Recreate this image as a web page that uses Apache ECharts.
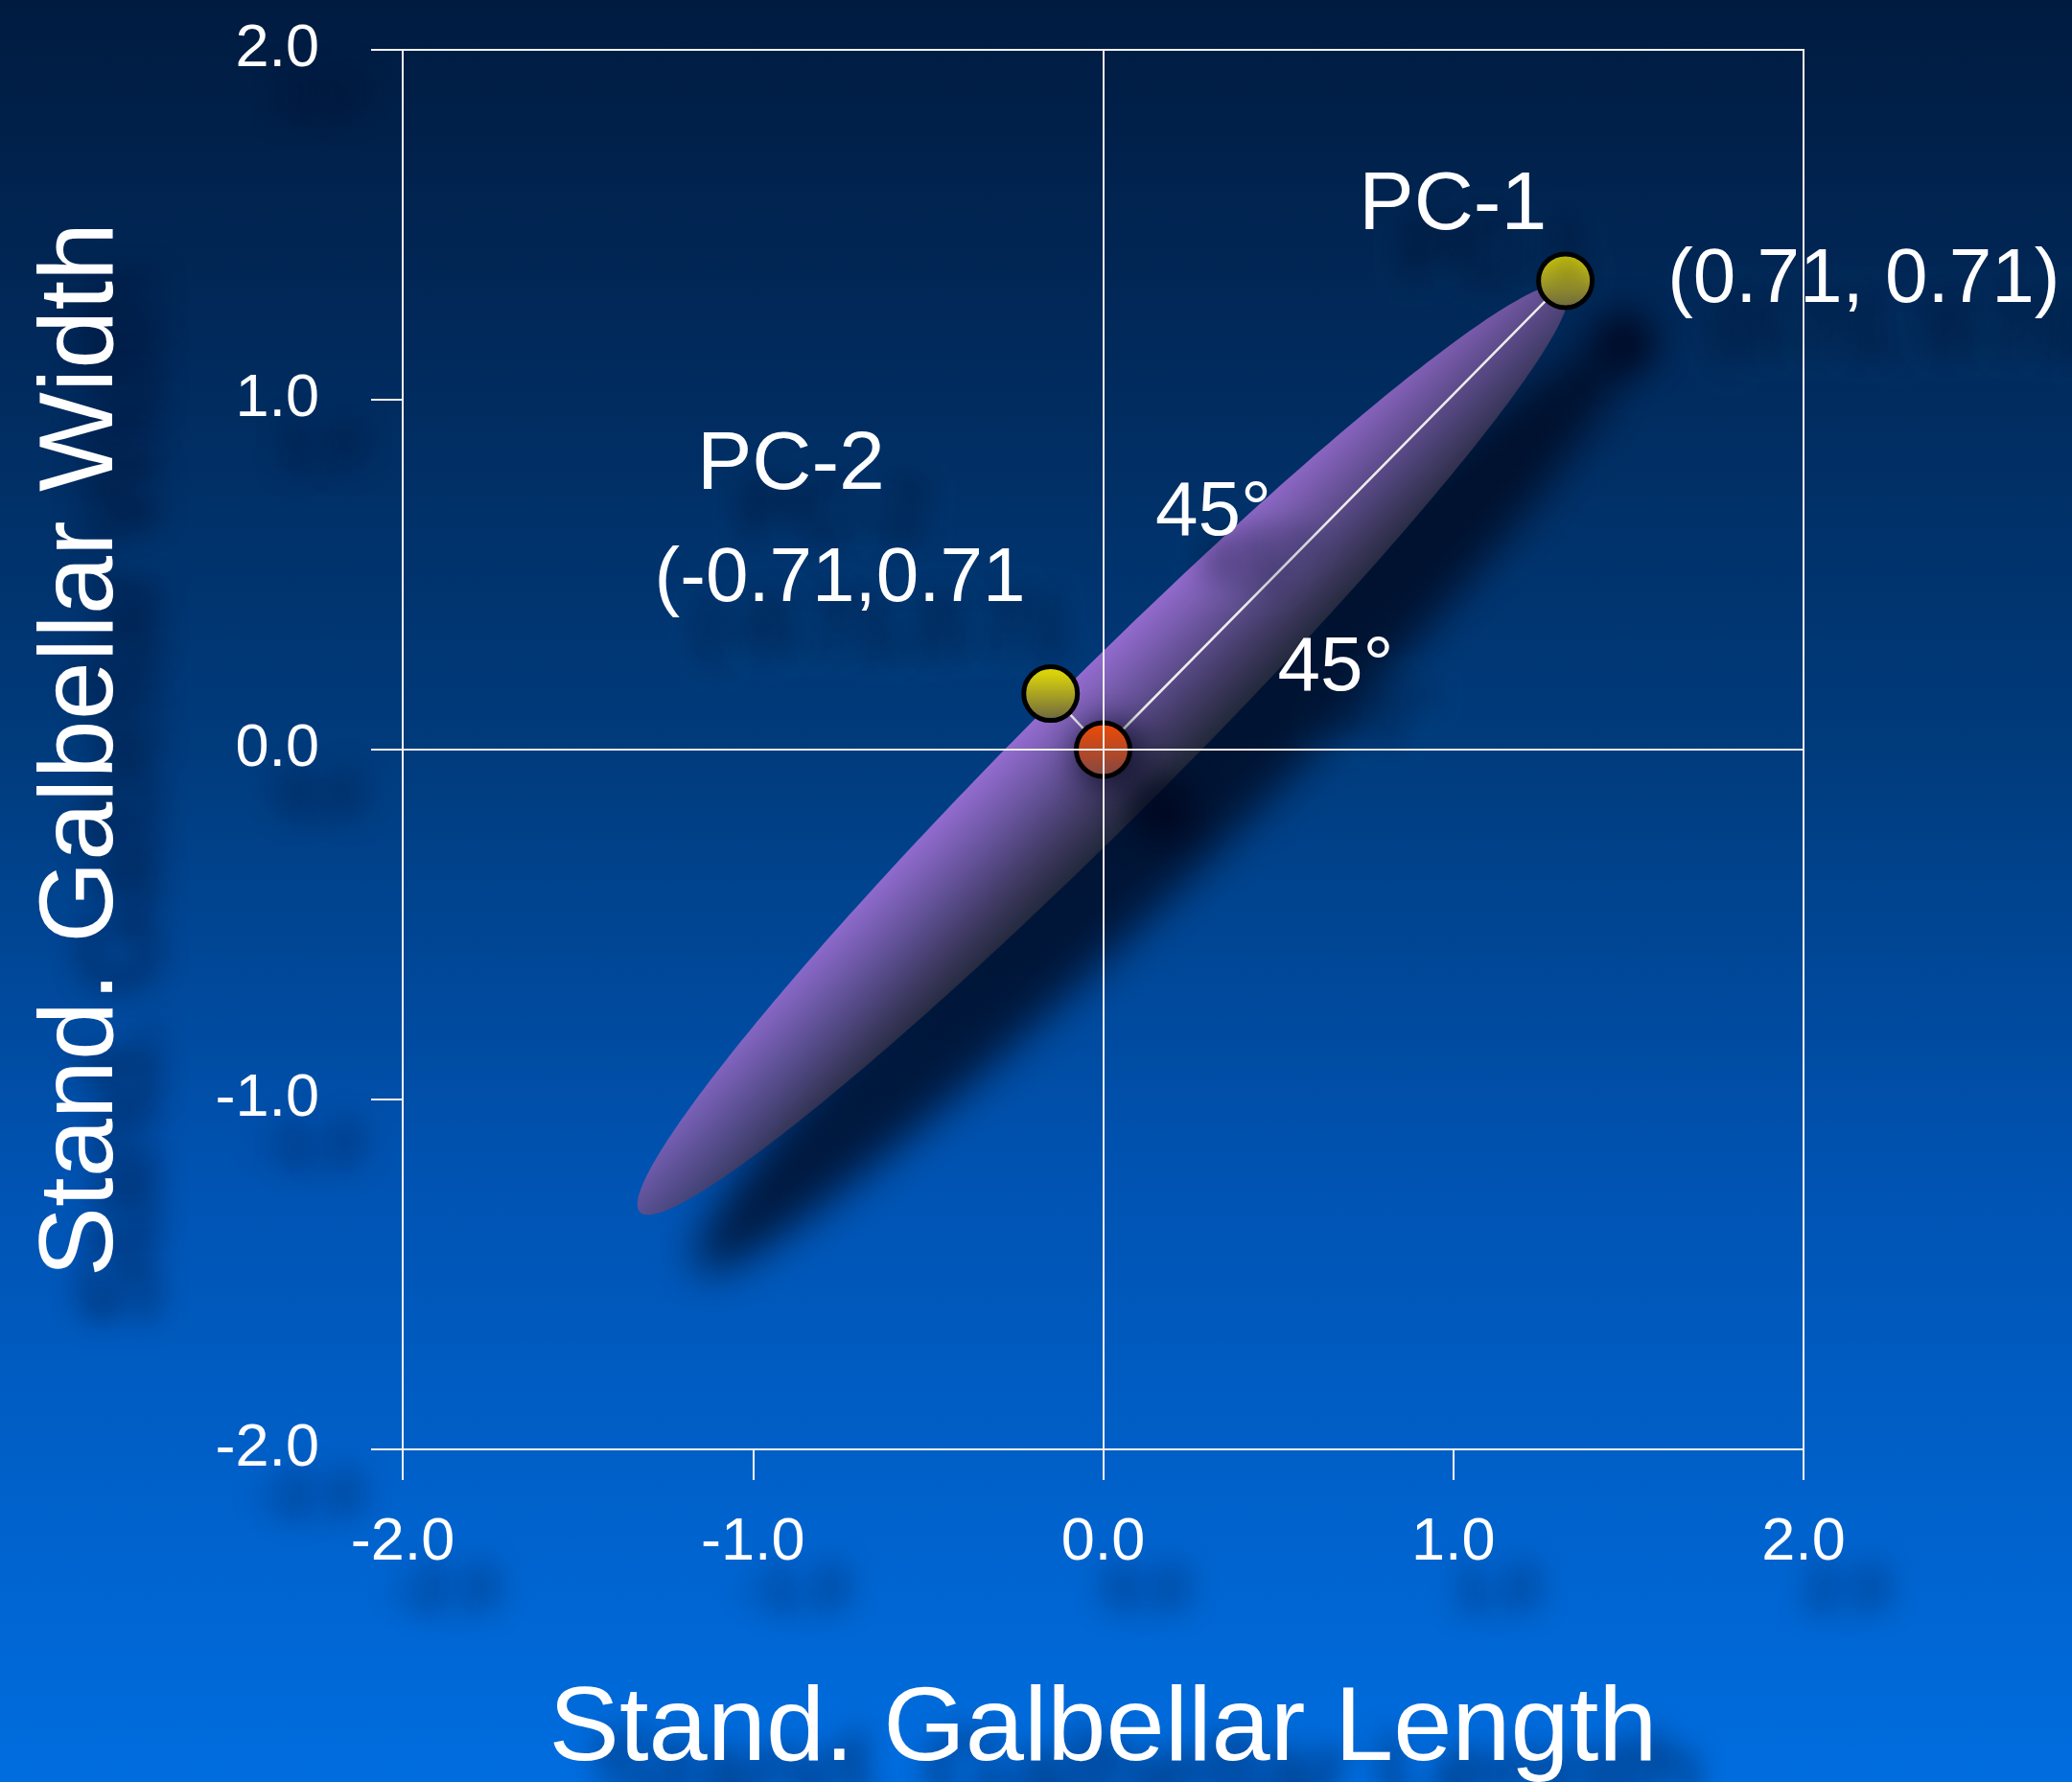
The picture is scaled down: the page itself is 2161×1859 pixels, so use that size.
<!DOCTYPE html>
<html>
<head>
<meta charset="utf-8">
<script src="https://cdn.jsdelivr.net/npm/echarts@6/dist/echarts.min.js"></script>
<style>
  html, body { margin: 0; padding: 0; background: #00336e; }
  #chart { width: 2161px; height: 1859px; }
</style>
</head>
<body>
<div id="chart"></div>
<script>
// Principal components of standardized glabellar length and width
const tickLabels = ['-2.0', '-1.0', '0.0', '1.0', '2.0'];
const pointNames = ['PC-2', 'Mean', 'PC-1'];
const pointX = [-0.15, 0, 1.32];
const pointY = [0.16, 0, 1.34];
const pc1Loading = '(0.71, 0.71)';
const pc2Loading = '(-0.71,0.71';
const angleLabels = ['45°', '45°'];

// Scatter ellipse: centre, semi-axes (axis units) and orientation (degrees)
const ellipseCenter = [0, 0];
const ellipseSemiMajor = 1.87;
const ellipseSemiMinor = 0.2;
const ellipseAngle = 45;

const FONT = '"Liberation Sans", Arial, Helvetica, sans-serif';
const shade = {
  textShadowColor: 'rgba(0, 10, 35, 0.75)',
  textShadowBlur: 30,
  textShadowOffsetX: 45,
  textShadowOffsetY: 50
};

// Free-standing annotations, anchored in axis units
const notes = [
  { text: pointNames[2], at: [1.0, 1.55], size: 86 },
  { text: pointNames[0], at: [-0.89, 0.81], size: 86 },
  { text: pc2Loading, at: [-0.75, 0.485], size: 80 },
  { text: angleLabels[0], at: [0.316, 0.673], size: 80 },
  { text: angleLabels[1], at: [0.665, 0.229], size: 80 }
];

const markerFill = {
  'PC-1': ['#f0e800', '#666044'],
  'PC-2': ['#f0e800', '#666044'],
  'Mean': ['#f64a00', '#7c4848']
};

const pointData = pointNames.map((name, i) => ({
  name: name,
  value: [pointX[i], pointY[i]],
  itemStyle: {
    color: {
      type: 'linear', x: 0, y: 0, x2: 0, y2: 1,
      colorStops: [
        { offset: 0, color: markerFill[name][0] },
        { offset: 1, color: markerFill[name][1] }
      ]
    }
  },
  label: name === 'PC-1'
    ? Object.assign({
        show: true, position: 'right', distance: 76,
        formatter: pc1Loading, color: '#ffffff', fontSize: 80, fontFamily: FONT,
        textBorderWidth: 0
      }, shade)
    : { show: false }
}));

const axisCommon = {
  type: 'value', min: -2, max: 2, interval: 1,
  axisLine: { show: true, onZero: false, lineStyle: { color: '#f4f4f4', width: 2 } },
  axisTick: { show: true, inside: false, lineStyle: { color: '#f4f4f4', width: 2 } },
  splitLine: { show: false },
  nameLocation: 'middle',
  nameTextStyle: Object.assign({ color: '#ffffff', fontSize: 110, fontFamily: FONT }, shade)
};

const chart = echarts.init(document.getElementById('chart'), null, { renderer: 'canvas' });

chart.setOption({
  animation: false,
  backgroundColor: {
    type: 'linear', x: 0, y: 0, x2: 0, y2: 1,
    colorStops: [
      { offset: 0, color: '#001b40' },
      { offset: 0.2, color: '#012a5c' },
      { offset: 0.42, color: '#003b7c' },
      { offset: 0.65, color: '#0052b0' },
      { offset: 0.85, color: '#0062cc' },
      { offset: 1, color: '#006ddf' }
    ]
  },
  grid: {
    left: 420, right: 280, top: 52, height: 1460,
    containLabel: false, outerBoundsMode: 'none',
    show: true, borderColor: '#f4f4f4', borderWidth: 2, backgroundColor: 'transparent'
  },
  xAxis: Object.assign({}, axisCommon, {
    position: 'bottom',
    axisTick: Object.assign({}, axisCommon.axisTick, { length: 32 }),
    axisLabel: Object.assign({
      margin: 66, color: '#ffffff', fontSize: 63, fontFamily: FONT,
      showMinLabel: true, showMaxLabel: true,
      formatter: v => tickLabels[Math.round(v + 2)]
    }, shade),
    name: 'Stand. Galbellar Length',
    nameGap: 239
  }),
  yAxis: Object.assign({}, axisCommon, {
    position: 'left',
    axisTick: Object.assign({}, axisCommon.axisTick, { length: 33 }),
    axisLabel: Object.assign({
      margin: 87, color: '#ffffff', fontSize: 63, fontFamily: FONT,
      showMinLabel: true, showMaxLabel: true,
      formatter: v => tickLabels[Math.round(v + 2)]
    }, shade),
    name: 'Stand. Galbellar Width',
    nameRotate: 90,
    nameGap: 278
  }),
  series: [
    {
      // zero reference lines
      type: 'scatter', z: 1, silent: true, data: [],
      markLine: {
        silent: true, symbol: ['none', 'none'], animation: false,
        label: { show: false },
        lineStyle: { color: '#f0f0f0', width: 2, type: 'solid' },
        data: [{ xAxis: 0 }, { yAxis: 0 }]
      }
    },
    {
      type: 'custom', z: 2, silent: true,
      data: [[ellipseCenter[0], ellipseCenter[1], ellipseSemiMajor, ellipseSemiMinor, ellipseAngle]],
      encode: { x: 0, y: 1 },
      renderItem: function (params, api) {
        const cx = api.value(0), cy = api.value(1);
        const a = api.value(2), b = api.value(3);
        const ang = api.value(4) * Math.PI / 180;
        const ux = Math.cos(ang), uy = Math.sin(ang);
        const vx = -uy, vy = ux;
        const pts = [];
        const n = 360;
        for (let k = 0; k < n; k++) {
          const t = 2 * Math.PI * k / n;
          const c = Math.cos(t) * a, s = Math.sin(t) * b;
          pts.push(api.coord([cx + c * ux + s * vx, cy + c * uy + s * vy]));
        }
        const g0 = api.coord([cx + b * vx, cy + b * vy]);
        const g1 = api.coord([cx - b * vx, cy - b * vy]);
        return {
          type: 'polygon',
          shape: { points: pts },
          style: {
            fill: {
              type: 'linear', global: true,
              x: g0[0], y: g0[1], x2: g1[0], y2: g1[1],
              colorStops: [
                { offset: 0, color: '#ac74de' },
                { offset: 0.5, color: '#674e8c' },
                { offset: 1, color: '#272c3c' }
              ]
            },
            opacity: 0.86,
            shadowBlur: 45,
            shadowColor: 'rgba(0, 8, 30, 0.9)',
            shadowOffsetX: 60,
            shadowOffsetY: 60
          }
        };
      }
    },
    {
      // component vectors from the mean
      type: 'line', z: 3, silent: true,
      data: pointNames.map((n, i) => [pointX[i], pointY[i]]),
      symbol: 'none',
      lineStyle: { color: '#ececec', width: 2.5 }
    },
    {
      type: 'scatter', z: 4, silent: true,
      symbolSize: 56,
      itemStyle: {
        borderColor: '#000000', borderWidth: 5, opacity: 1,
        shadowBlur: 35, shadowColor: 'rgba(0, 6, 28, 0.85)',
        shadowOffsetX: 62, shadowOffsetY: 64
      },
      data: pointData
    },
    {
      type: 'scatter', z: 5, silent: true,
      symbolSize: 1,
      itemStyle: { color: 'rgba(0,0,0,0)', opacity: 1 },
      label: Object.assign({
        show: true, position: [0, 0], align: 'center', verticalAlign: 'middle',
        color: '#ffffff', fontFamily: FONT, opacity: 1,
        textBorderWidth: 0, textBorderColor: 'transparent',
        formatter: p => p.name
      }, shade),
      data: notes.map(n => ({ name: n.text, value: n.at, label: { fontSize: n.size } }))
    }
  ]
});
</script>
</body>
</html>
